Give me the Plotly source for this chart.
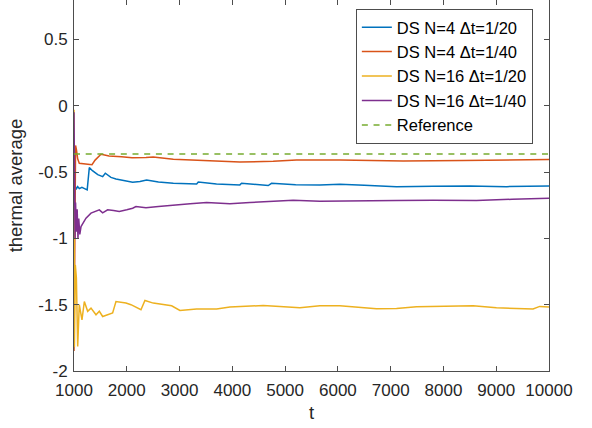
import plotly.graph_objects as go

# Running thermal averages of the DS sampler
t_n4_dt20 = [1000, 1020, 1040, 1070, 1100, 1150, 1200, 1250, 1290, 1350, 1450, 1543, 1593, 1700,
             1795, 1950, 2111, 2250, 2376, 2600, 2882, 3324, 3355, 3700, 4143, 4175, 4400, 4680,
             4743, 5200, 5658, 6037, 6500, 7110, 7800, 8499, 9200, 9888, 10000]
v_n4_dt20 = [-0.70, -0.60, -0.63, -0.61, -0.625, -0.615, -0.625, -0.635, -0.467, -0.49, -0.52,
             -0.535, -0.509, -0.54, -0.552, -0.565, -0.577, -0.572, -0.56, -0.575, -0.585, -0.59,
             -0.575, -0.59, -0.597, -0.585, -0.595, -0.602, -0.585, -0.595, -0.597, -0.592, -0.60,
             -0.61, -0.607, -0.605, -0.61, -0.61, -0.605]

t_n4_dt40 = [1000, 1015, 1030, 1045, 1070, 1100, 1200, 1300, 1341, 1400, 1511, 1580, 1663, 1900,
             2100, 2363, 2500, 2882, 3513, 4143, 4774, 5216, 6037, 6600, 7236, 8372, 9200, 10000]
v_n4_dt40 = [-1.85, -0.55, -0.30, -0.33, -0.40, -0.434, -0.44, -0.447, -0.445, -0.41, -0.366,
             -0.372, -0.379, -0.385, -0.392, -0.39, -0.387, -0.404, -0.416, -0.424, -0.419, -0.409,
             -0.409, -0.412, -0.416, -0.413, -0.41, -0.406]

t_n16_dt20 = [1000, 1008, 1025, 1045, 1070, 1100, 1151, 1196, 1259, 1322, 1417, 1480, 1543, 1637,
              1732, 1795, 1985, 2079, 2269, 2344, 2502, 2850, 3007, 3323, 3702, 3954, 4585, 4901,
              5280, 5658, 6037, 6732, 7111, 7489, 8562, 9004, 9698, 9824, 10000]
v_n16_dt20 = [-0.03, -1.82, -1.20, -1.30, -1.815, -1.50, -1.614, -1.476, -1.55, -1.526, -1.576,
              -1.55, -1.589, -1.576, -1.563, -1.476, -1.488, -1.50, -1.538, -1.468, -1.488, -1.508,
              -1.544, -1.533, -1.533, -1.518, -1.506, -1.513, -1.523, -1.508, -1.508, -1.531,
              -1.528, -1.516, -1.508, -1.523, -1.533, -1.513, -1.518]

t_n16_dt40 = [1000, 1010, 1020, 1030, 1045, 1060, 1075, 1090, 1110, 1133, 1180, 1227, 1322, 1400,
              1480, 1543, 1637, 1750, 1858, 2000, 2111, 2174, 2363, 2600, 2882, 3200, 3513, 3954,
              4333, 4774, 5153, 5658, 6037, 6600, 7110, 7800, 8625, 9300, 10000]
v_n16_dt40 = [-0.05, -0.75, -1.0, -0.73, -0.95, -0.78, -1.0, -0.85, -0.97, -0.911, -0.88, -0.848,
              -0.81, -0.80, -0.785, -0.808, -0.785, -0.79, -0.798, -0.785, -0.773, -0.76, -0.77,
              -0.76, -0.748, -0.74, -0.73, -0.74, -0.73, -0.718, -0.713, -0.72, -0.72, -0.718,
              -0.715, -0.713, -0.715, -0.705, -0.697]

t_ref = [1000, 10000]
v_ref = [-0.364, -0.364]

x_ticks = [1000, 2000, 3000, 4000, 5000, 6000, 7000, 8000, 9000, 10000]
y_ticks = [-2, -1.5, -1, -0.5, 0, 0.5]
y_tick_text = ["-2", "-1.5", "-1", "-0.5", "0", "0.5"]

FONT = "Liberation Sans, Arial, Helvetica, sans-serif"
TXT = "#262626"
AX = "#4d4d4d"

series = [
    ("DS N=4 \u0394t=1/20", t_n4_dt20, v_n4_dt20, "#0072BD", "solid"),
    ("DS N=4 \u0394t=1/40", t_n4_dt40, v_n4_dt40, "#D95319", "solid"),
    ("DS N=16 \u0394t=1/20", t_n16_dt20, v_n16_dt20, "#EDB120", "solid"),
    ("DS N=16 \u0394t=1/40", t_n16_dt40, v_n16_dt40, "#7E2F8E", "solid"),
    ("Reference", t_ref, v_ref, "#77AC30", "6px,5.7px"),
]

fig = go.Figure()
for name, tx, vy, color, dash in series:
    fig.add_trace(go.Scatter(x=tx, y=vy, mode="lines", name=name,
                             line=dict(color=color, width=1.5, dash=dash)))

x_range = [1000, 10000]
y_range = [-2, 0.797]

fig.update_layout(
    width=592, height=428,
    margin=dict(l=74, r=42.7, t=0, b=56.5),
    paper_bgcolor="white", plot_bgcolor="white",
    font=dict(family=FONT, size=17, color=TXT),
    showlegend=True,
    legend=dict(x=0.966, y=0.976, xanchor="right", yanchor="top",
                bgcolor="white", bordercolor=AX, borderwidth=1,
                font=dict(size=16.5, color="#000000"),
                tracegroupgap=0, itemwidth=30),
    xaxis=dict(range=x_range, tickvals=x_ticks, ticktext=[str(v) for v in x_ticks],
               ticks="inside", ticklen=5, tickcolor=AX, showline=True, linecolor=AX,
               linewidth=1, mirror=False, showgrid=False, zeroline=False,
               ticklabelstandoff=4,
               title=dict(text="t", font=dict(size=18.5, color=TXT), standoff=6)),
    xaxis2=dict(range=x_range, tickvals=x_ticks, overlaying="x", side="top",
                ticks="inside", ticklen=5, tickcolor=AX, showticklabels=False,
                showline=False, showgrid=False, zeroline=False),
    yaxis=dict(range=y_range, tickvals=y_ticks, ticktext=y_tick_text,
               ticks="inside", ticklen=5, tickcolor=AX, showline=True, linecolor=AX,
               linewidth=1, mirror="ticks", showgrid=False, zeroline=False,
               ticklabelstandoff=2,
               title=dict(text="thermal average", font=dict(size=18.5, color=TXT), standoff=10)),
)

# Top-edge tick marks carried by an empty overlay axis
fig.add_trace(go.Scatter(x=[], y=[], xaxis="x2", showlegend=False, hoverinfo="skip"))

fig.write_html("out.html")
